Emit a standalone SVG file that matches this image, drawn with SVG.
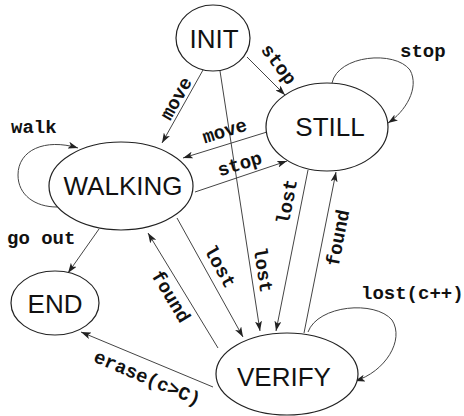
<svg xmlns="http://www.w3.org/2000/svg" width="464" height="416" viewBox="0 0 464 416">
<defs>
<marker id="arr" markerWidth="10" markerHeight="7" refX="10" refY="3.5" orient="auto" markerUnits="userSpaceOnUse">
<path d="M0,0 L10,3.5 L0,7 L2.5,3.5 z" fill="#222"/>
</marker>
<style>
.node ellipse{fill:#fff;stroke:#222;stroke-width:1.2}
.node text{font-family:"Liberation Sans",Arial,sans-serif;font-size:26px;fill:#111;text-anchor:middle}
.edge{fill:none;stroke:#444;stroke-width:1;marker-end:url(#arr)}
.lbl{font-family:"Liberation Mono","Courier New",monospace;font-size:19px;font-weight:bold;fill:#111}
.c{text-anchor:middle}
</style>
</defs>
<rect width="464" height="416" fill="#fff"/>
<g id="connectors">
<path class="edge" d="M203,70 L162,143"/>
<path class="edge" d="M247,57 L285,95"/>
<path class="edge" d="M220,71 L260,331"/>
<path class="edge" d="M267,132 L183,158"/>
<path class="edge" d="M195,192 L287,161"/>
<path class="edge" d="M177,218 L243,337"/>
<path class="edge" d="M308,170 L276,331"/>
<path class="edge" d="M304,333 L336,172"/>
<path class="edge" d="M218,348 L148,233"/>
<path class="edge" d="M99,229 L68,273"/>
<path class="edge" d="M213,387 L81,332"/>
<path class="edge" d="M57,207 C35,207 18,195 18,175 C18,150 45,138 78,148"/>
<path class="edge" d="M332,83 C338,55 395,50 410,70 C420,88 405,112 388,123"/>
<path class="edge" d="M308,332 C318,305 375,300 392,320 C405,340 385,372 355,381"/>
<text class="lbl" x="11" y="133">walk</text>
<text class="lbl" x="7" y="244">go out</text>
<text class="lbl" x="400" y="57">stop</text>
<text class="lbl" x="361" y="299">lost(c++)</text>
<text class="lbl c" transform="translate(177,99) rotate(-61)" dy="5">move</text>
<text class="lbl c" transform="translate(278,65) rotate(53)" dy="5">stop</text>
<text class="lbl c" transform="translate(225,132) rotate(-17)" dy="5">move</text>
<text class="lbl c" transform="translate(240,165) rotate(-17)" dy="5">stop</text>
<text class="lbl c" transform="translate(262,270) rotate(81)" dy="5">lost</text>
<text class="lbl c" transform="translate(219,267) rotate(61)" dy="5">lost</text>
<text class="lbl c" transform="translate(288,202) rotate(-79)" dy="5">lost</text>
<text class="lbl c" transform="translate(339,238) rotate(-79)" dy="5">found</text>
<text class="lbl c" transform="translate(170,297) rotate(59)" dy="5">found</text>
<text class="lbl c" transform="translate(147,379) rotate(23)" dy="5">erase(c&gt;C)</text>
</g>
<g id="INIT" class="node"><ellipse cx="213" cy="38" rx="37" ry="33"/><text x="214" y="48">INIT</text></g>
<g id="STILL" class="node"><ellipse cx="327" cy="127" rx="61" ry="44"/><text x="330" y="136">STILL</text></g>
<g id="WALKING" class="node"><ellipse cx="121" cy="186" rx="72" ry="44"/><text x="123" y="195">WALKING</text></g>
<g id="END" class="node"><ellipse cx="55" cy="303" rx="44" ry="32"/><text x="55" y="313">END</text></g>
<g id="VERIFY" class="node"><ellipse cx="287" cy="374" rx="71" ry="41"/><text x="284" y="386">VERIFY</text></g>
</svg>
